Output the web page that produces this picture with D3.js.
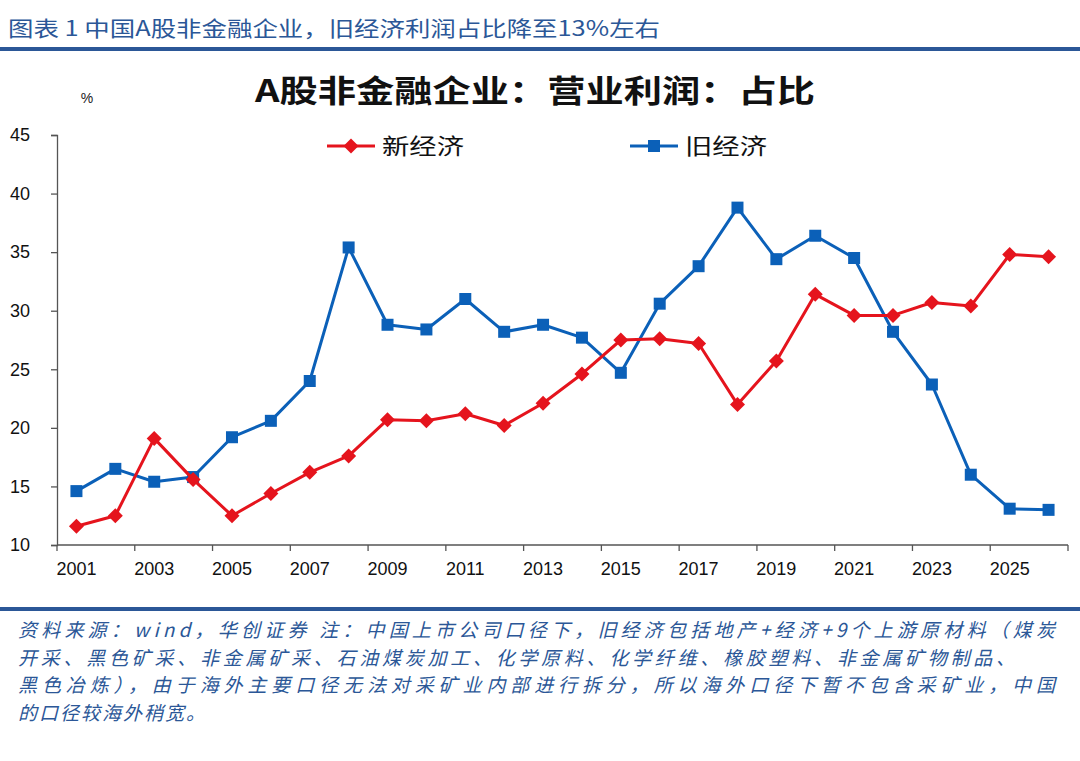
<!DOCTYPE html>
<html>
<head>
<meta charset="utf-8">
<script src="https://cdn.jsdelivr.net/npm/d3@7/dist/d3.min.js"></script>
<style>
  html, body { margin: 0; padding: 0; background: #fff; }
  svg { display: block; }
</style>
</head>
<body>
<svg id="chart" width="1080" height="761"></svg>
<script>
// ---------- data ----------
const years = ["2001","2002","2003","2004","2005","2006","2007","2008","2009","2010","2011","2012","2013",
               "2014","2015","2016","2017","2018","2019","2020","2021","2022","2023","2024","2025","2026"];
const newEconomy = [11.6,12.5,19.1,15.6,12.5,14.4,16.2,17.6,20.7,20.6,21.2,20.2,22.1,
                    24.6,27.5,27.6,27.2,22.0,25.7,31.4,29.6,29.6,30.7,30.4,34.8,34.6];
const oldEconomy = [14.6,16.5,15.4,15.8,19.2,20.6,24.0,35.4,28.8,28.4,31.0,28.2,28.8,
                    27.7,24.7,30.6,33.8,38.8,34.4,36.4,34.5,28.2,23.7,16.0,13.1,13.0];
const yTicks = [10,15,20,25,30,35,40,45];
const xTickLabels = ["2001","2003","2005","2007","2009","2011","2013","2015","2017","2019","2021","2023","2025"];
const seriesNames = ["新经济","旧经济"];
const headerText = "图表 1 中国A股非金融企业，旧经济利润占比降至13%左右";
const chartTitle = "A股非金融企业：营业利润：占比";
const unitLabel = "%";
const noteLines = [
  "资料来源：wind，华创证券 注：中国上市公司口径下，旧经济包括地产+经济+9个上游原材料（煤炭",
  "开采、黑色矿采、非金属矿采、石油煤炭加工、化学原料、化学纤维、橡胶塑料、非金属矿物制品、",
  "黑色冶炼），由于海外主要口径无法对采矿业内部进行拆分，所以海外口径下暂不包含采矿业，中国",
  "的口径较海外稍宽。"
];

// ---------- styles ----------
const RED = "#e5141d";
const BLUE = "#0b60b8";
const HEAD_BLUE = "#2b5797";
const CJK = "'Noto Sans CJK SC', 'Noto Sans', sans-serif";
const LATIN = "'Liberation Sans', Arial, sans-serif";

const svg = d3.select("#chart");

// header
svg.append("text")
  .attr("x", 8).attr("y", 36)
  .attr("font-family", CJK).attr("font-size", 21)
  .attr("fill", HEAD_BLUE)
  .attr("textLength", 652).attr("lengthAdjust", "spacingAndGlyphs")
  .text(headerText);
svg.append("rect").attr("x", 0).attr("y", 47).attr("width", 1080).attr("height", 4).attr("fill", HEAD_BLUE);

// chart title
svg.append("text")
  .attr("x", 255).attr("y", 102)
  .attr("font-family", CJK).attr("font-size", 31).attr("font-weight", 700)
  .attr("fill", "#111")
  .attr("textLength", 560).attr("lengthAdjust", "spacingAndGlyphs")
  .text(chartTitle);

// unit
svg.append("text")
  .attr("x", 87).attr("y", 103).attr("text-anchor", "middle")
  .attr("font-family", LATIN).attr("font-size", 14).attr("fill", "#222")
  .text(unitLabel);

// ---------- scales ----------
const x = d3.scaleBand().domain(years).range([57, 1068]).padding(0);
const y = d3.scaleLinear().domain([10, 45]).range([545, 135]);
const cx = d => x(d) + x.bandwidth() / 2;

// y axis
const yAxis = d3.axisLeft(y).tickValues(yTicks).tickSize(6).tickPadding(10).tickFormat(d3.format("d"));
const gy = svg.append("g").attr("transform", "translate(57,0)").call(yAxis);
gy.select(".domain").attr("stroke", "#555").attr("stroke-width", 1.3);
gy.selectAll(".tick line").attr("stroke", "#555").attr("stroke-width", 1.3);
gy.selectAll(".tick text").attr("font-family", LATIN).attr("font-size", 18).attr("fill", "#111")
  .attr("x", -37).attr("text-anchor", "middle");

// x axis: labels at band centres for every other year, ticks at band boundaries
const gx = svg.append("g").attr("transform", "translate(0,545)");
gx.append("line").attr("x1", 57).attr("x2", 1068).attr("y1", 0).attr("y2", 0)
  .attr("stroke", "#555").attr("stroke-width", 1.3);
const boundaryIdx = d3.range(0, years.length + 1, 2);
gx.selectAll("line.tk").data(boundaryIdx).enter().append("line").attr("class", "tk")
  .attr("x1", i => i < years.length ? x(years[i]) : x.range()[1])
  .attr("x2", i => i < years.length ? x(years[i]) : x.range()[1])
  .attr("y1", 0).attr("y2", 6).attr("stroke", "#555").attr("stroke-width", 1.3);
gx.selectAll("text").data(xTickLabels).enter().append("text")
  .attr("x", d => cx(d)).attr("y", 30).attr("text-anchor", "middle")
  .attr("font-family", LATIN).attr("font-size", 18).attr("fill", "#111")
  .text(d => d);

// ---------- series ----------
const line = d3.line().x((d, i) => cx(years[i])).y(d => y(d));

function diamond(sel, r) {
  return sel.attr("d", `M0,${-r}L${r},0L0,${r}L${-r},0Z`);
}

// old economy (blue squares)
svg.append("path").datum(oldEconomy).attr("d", line)
  .attr("fill", "none").attr("stroke", BLUE).attr("stroke-width", 3).attr("stroke-linejoin", "round");
svg.selectAll("rect.old").data(oldEconomy).enter().append("rect").attr("class", "old")
  .attr("x", (d, i) => cx(years[i]) - 6).attr("y", d => y(d) - 6)
  .attr("width", 12).attr("height", 12).attr("fill", BLUE);

// new economy (red diamonds)
svg.append("path").datum(newEconomy).attr("d", line)
  .attr("fill", "none").attr("stroke", RED).attr("stroke-width", 3).attr("stroke-linejoin", "round");
svg.selectAll("path.newm").data(newEconomy).enter().append("path").attr("class", "newm")
  .attr("transform", (d, i) => `translate(${cx(years[i])},${y(d)})`)
  .call(diamond, 7.5).attr("fill", RED);

// ---------- legend ----------
const legend = [
  {name: seriesNames[0], color: RED, x0: 327, shape: "diamond"},
  {name: seriesNames[1], color: BLUE, x0: 630, shape: "square"}
];
const ly = 146;
legend.forEach(l => {
  const g = svg.append("g");
  g.append("line").attr("x1", l.x0).attr("x2", l.x0 + 48).attr("y1", ly).attr("y2", ly)
    .attr("stroke", l.color).attr("stroke-width", 3);
  if (l.shape === "diamond") {
    g.append("path").attr("transform", `translate(${l.x0 + 24},${ly})`).call(diamond, 7.5).attr("fill", l.color);
  } else {
    g.append("rect").attr("x", l.x0 + 24 - 6).attr("y", ly - 6).attr("width", 12).attr("height", 12).attr("fill", l.color);
  }
  g.append("text").attr("x", l.x0 + 55).attr("y", ly + 8)
    .attr("font-family", CJK).attr("font-size", 22).attr("fill", "#111")
    .attr("textLength", 82).attr("lengthAdjust", "spacingAndGlyphs")
    .text(l.name);
});

// ---------- footer ----------
svg.append("rect").attr("x", 0).attr("y", 607).attr("width", 1080).attr("height", 4).attr("fill", HEAD_BLUE);
const noteWidths = [1037, 997, 1037, 187];
svg.selectAll("text.note").data(noteLines).enter().append("text").attr("class", "note")
  .attr("x", 18).attr("y", (d, i) => 637 + i * 27.5)
  .attr("font-family", CJK).attr("font-size", 19).attr("font-style", "italic")
  .attr("fill", "#2b5797")
  .attr("textLength", (d, i) => noteWidths[i]).attr("lengthAdjust", "spacing")
  .text(d => d);
</script>
</body>
</html>
